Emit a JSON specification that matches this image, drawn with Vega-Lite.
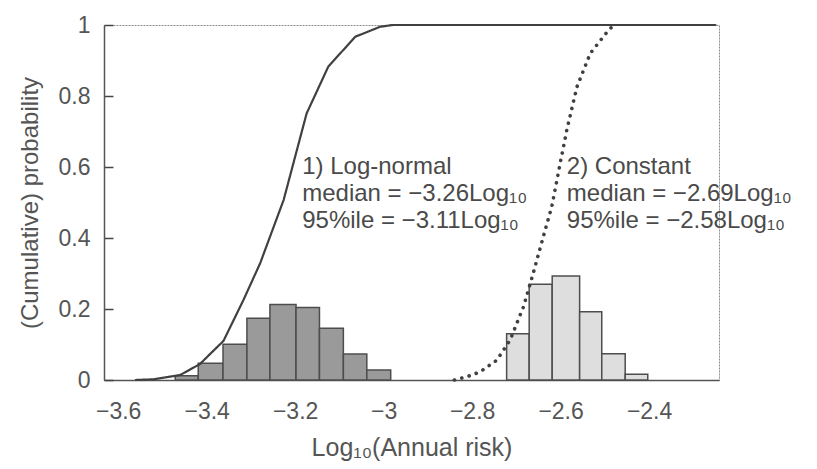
{
  "$schema": "https://vega.github.io/schema/vega-lite/v6.json",
  "width": 615,
  "height": 355,
  "autosize": "none",
  "padding": {"left": 104, "top": 25, "right": 98, "bottom": 89},
  "background": "white",
  "config": {
    "font": "Liberation Sans",
    "view": {"stroke": "#8a8a8a", "strokeWidth": 1, "strokeDash": [2, 1]}
  },
  "datasets": {
    "bars": [
      {"model": "Log-normal", "x": -3.471, "x2": -3.419, "p": 0.012},
      {"model": "Log-normal", "x": -3.419, "x2": -3.363, "p": 0.047},
      {"model": "Log-normal", "x": -3.363, "x2": -3.309, "p": 0.101},
      {"model": "Log-normal", "x": -3.309, "x2": -3.257, "p": 0.174},
      {"model": "Log-normal", "x": -3.257, "x2": -3.198, "p": 0.213},
      {"model": "Log-normal", "x": -3.198, "x2": -3.145, "p": 0.204},
      {"model": "Log-normal", "x": -3.145, "x2": -3.091, "p": 0.146},
      {"model": "Log-normal", "x": -3.091, "x2": -3.038, "p": 0.073},
      {"model": "Log-normal", "x": -3.038, "x2": -2.984, "p": 0.028},
      {"model": "Constant", "x": -2.722, "x2": -2.671, "p": 0.130},
      {"model": "Constant", "x": -2.671, "x2": -2.619, "p": 0.270},
      {"model": "Constant", "x": -2.619, "x2": -2.557, "p": 0.293},
      {"model": "Constant", "x": -2.557, "x2": -2.507, "p": 0.192},
      {"model": "Constant", "x": -2.507, "x2": -2.454, "p": 0.074},
      {"model": "Constant", "x": -2.454, "x2": -2.403, "p": 0.016}
    ],
    "curves": [
      {"model": "Log-normal", "x": -3.56, "p": 0.0},
      {"model": "Log-normal", "x": -3.52, "p": 0.002},
      {"model": "Log-normal", "x": -3.46, "p": 0.014},
      {"model": "Log-normal", "x": -3.415, "p": 0.045},
      {"model": "Log-normal", "x": -3.39, "p": 0.076},
      {"model": "Log-normal", "x": -3.362, "p": 0.11},
      {"model": "Log-normal", "x": -3.317, "p": 0.225},
      {"model": "Log-normal", "x": -3.279, "p": 0.329},
      {"model": "Log-normal", "x": -3.226, "p": 0.507},
      {"model": "Log-normal", "x": -3.174, "p": 0.751},
      {"model": "Log-normal", "x": -3.125, "p": 0.883},
      {"model": "Log-normal", "x": -3.064, "p": 0.967},
      {"model": "Log-normal", "x": -3.008, "p": 0.995},
      {"model": "Log-normal", "x": -2.98, "p": 1.0},
      {"model": "Log-normal", "x": -2.25, "p": 1.0},
      {"model": "Constant", "x": -2.84, "p": 0.0},
      {"model": "Constant", "x": -2.812, "p": 0.009},
      {"model": "Constant", "x": -2.782, "p": 0.023},
      {"model": "Constant", "x": -2.744, "p": 0.056},
      {"model": "Constant", "x": -2.714, "p": 0.113},
      {"model": "Constant", "x": -2.684, "p": 0.206},
      {"model": "Constant", "x": -2.662, "p": 0.3},
      {"model": "Constant", "x": -2.639, "p": 0.404},
      {"model": "Constant", "x": -2.62, "p": 0.488},
      {"model": "Constant", "x": -2.601, "p": 0.61},
      {"model": "Constant", "x": -2.586, "p": 0.704},
      {"model": "Constant", "x": -2.563, "p": 0.826},
      {"model": "Constant", "x": -2.533, "p": 0.92},
      {"model": "Constant", "x": -2.488, "p": 0.991},
      {"model": "Constant", "x": -2.473, "p": 1.0}
    ],
    "notes": [
      {"x": -3.184, "p": 0.58, "t": "1) Log-normal"},
      {"x": -3.184, "p": 0.504, "t": "median = −3.26Log₁₀"},
      {"x": -3.184, "p": 0.428, "t": "95%ile = −3.11Log₁₀"},
      {"x": -2.586, "p": 0.58, "t": "2) Constant"},
      {"x": -2.586, "p": 0.504, "t": "median = −2.69Log₁₀"},
      {"x": -2.586, "p": 0.428, "t": "95%ile = −2.58Log₁₀"}
    ]
  },
  "encoding": {
    "x": {
      "field": "x",
      "type": "quantitative",
      "scale": {"domain": [-3.632, -2.242], "nice": false, "zero": false},
      "axis": {
        "title": "Log₁₀(Annual risk)",
        "values": [-3.6, -3.4, -3.2, -3, -2.8, -2.6, -2.4],
        "format": "~g",
        "grid": false,
        "ticks": false,
        "labelPadding": 20,
        "labelFontSize": 23,
        "labelColor": "#555555",
        "labelFont": "Liberation Sans",
        "domainColor": "#555555",
        "domainWidth": 1.5,
        "titleFont": "Liberation Sans",
        "titleFontSize": 25,
        "titleFontWeight": "normal",
        "titleColor": "#555555",
        "titleBaseline": "alphabetic",
        "titleY": 75
      }
    },
    "y": {
      "field": "p",
      "type": "quantitative",
      "scale": {"domain": [0, 1], "nice": false},
      "axis": {
        "title": "(Cumulative) probability",
        "values": [0, 0.2, 0.4, 0.6, 0.8, 1],
        "format": "~g",
        "grid": false,
        "ticks": true,
        "tickSize": -9,
        "tickColor": "#444444",
        "tickWidth": 1.5,
        "labelPadding": 23,
        "labelFontSize": 23,
        "labelColor": "#555555",
        "labelFont": "Liberation Sans",
        "domainColor": "#555555",
        "domainWidth": 1.5,
        "titleFont": "Liberation Sans",
        "titleFontSize": 24,
        "titleFontWeight": "normal",
        "titleColor": "#555555",
        "titleBaseline": "alphabetic",
        "titleX": -67
      }
    }
  },
  "layer": [
    {
      "data": {"name": "bars"},
      "mark": {"type": "rect", "stroke": "#4d4d4d", "strokeWidth": 1.5},
      "encoding": {
        "x2": {"field": "x2"},
        "y2": {"datum": 0},
        "fill": {
          "field": "model",
          "type": "nominal",
          "scale": {"domain": ["Log-normal", "Constant"], "range": ["#9a9a9a", "#dedede"]},
          "legend": null
        }
      }
    },
    {
      "data": {"name": "curves"},
      "mark": {"type": "line", "color": "#404040", "strokeCap": "round"},
      "encoding": {
        "strokeWidth": {
          "field": "model",
          "type": "nominal",
          "scale": {"domain": ["Log-normal", "Constant"], "range": [2.2, 3.6]},
          "legend": null
        },
        "strokeDash": {
          "field": "model",
          "type": "nominal",
          "scale": {"domain": ["Log-normal", "Constant"], "range": [[1, 0], [0.1, 7.5]]},
          "legend": null
        }
      }
    },
    {
      "data": {"name": "notes"},
      "mark": {"type": "text", "align": "left", "baseline": "alphabetic", "fontSize": 24, "font": "Liberation Sans", "color": "#4a4a4a"},
      "encoding": {
        "text": {"field": "t", "type": "nominal"}
      }
    }
  ]
}
